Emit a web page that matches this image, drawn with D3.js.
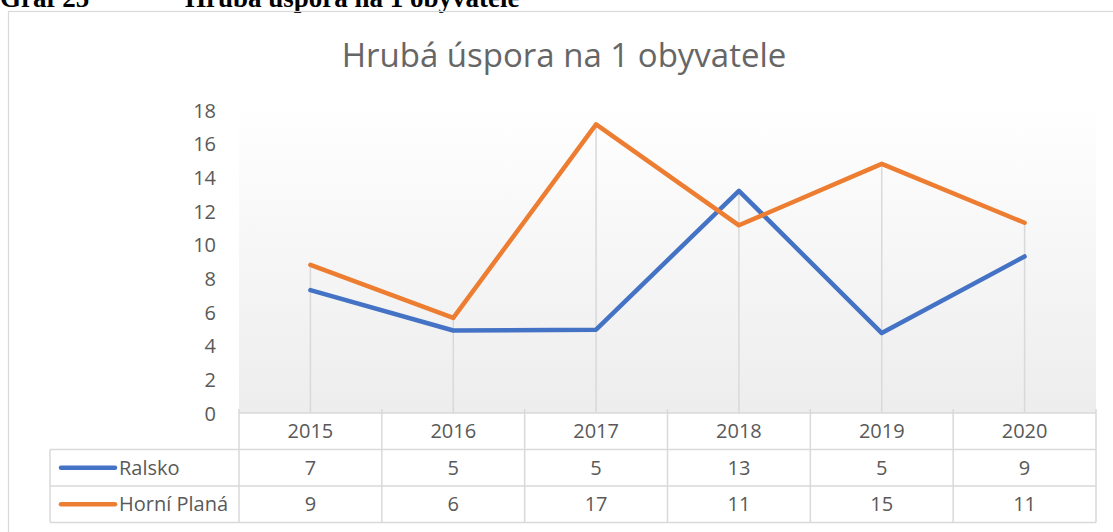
<!DOCTYPE html>
<html>
<head>
<meta charset="utf-8">
<script src="https://cdn.jsdelivr.net/npm/d3@7"></script>
<style>
  body { margin: 0; background: #fff; }
  svg { display: block; }
</style>
</head>
<body>
<svg id="chart" width="1113" height="532"></svg>
<script>
// values as plotted (table shows them rounded)
var years = ['2015', '2016', '2017', '2018', '2019', '2020'];
var ralsko = [7.3, 4.9, 4.95, 13.2, 4.75, 9.3];
var horniPlana = [8.8, 5.65, 17.15, 11.15, 14.8, 11.3];
var seriesNames = ['Ralsko', 'Horní Planá'];
var seriesColors = ['#4472C4', '#ED7D31'];
var yTicks = [0, 2, 4, 6, 8, 10, 12, 14, 16, 18];

var font = '"Open Sans", sans-serif';
var textColor = '#595959';
var gridColor = '#d9d9d9';

var svg = d3.select('#chart');
var margin = {left: 239, right: 1096, top: 103, bottom: 413};
var rowH = 36.5;
var legendLeft = 50;

var x = d3.scaleBand()
    .domain(years)
    .range([margin.left, margin.right]);

var y = d3.scaleLinear()
    .domain([0, 18])
    .range([margin.bottom, 110]);

var series = [
    {name: seriesNames[0], color: seriesColors[0], values: ralsko},
    {name: seriesNames[1], color: seriesColors[1], values: horniPlana}
];

// heading of the document, clipped by the top edge
svg.append('g')
    .attr('font-family', '"Liberation Serif", "Times New Roman", serif')
    .attr('font-weight', 'bold')
    .attr('font-size', 27)
    .attr('fill', '#000')
    .selectAll('text')
    .data([{t: 'Graf 25', x: 0}, {t: 'Hrubá úspora na 1 obyvatele', x: 185}])
  .enter().append('text')
    .attr('x', function (d) { return d.x; })
    .attr('y', 7)
    .text(function (d) { return d.t; });

// chart border
svg.append('rect')
    .attr('x', 8.5)
    .attr('y', 11.5)
    .attr('width', 1120)
    .attr('height', 540)
    .attr('fill', 'none')
    .attr('stroke', gridColor)
    .attr('stroke-width', 1.2);

// plot area gradient
var defs = svg.append('defs');
var grad = defs.append('linearGradient')
    .attr('id', 'plotfill')
    .attr('x1', 0).attr('y1', 0)
    .attr('x2', 0).attr('y2', 1);
grad.append('stop').attr('offset', '0%').attr('stop-color', '#ffffff');
grad.append('stop').attr('offset', '100%').attr('stop-color', '#ededed');

svg.append('rect')
    .attr('x', margin.left)
    .attr('y', margin.top)
    .attr('width', margin.right - margin.left)
    .attr('height', margin.bottom - margin.top)
    .attr('fill', 'url(#plotfill)');

// title
svg.append('text')
    .attr('x', 564)
    .attr('y', 67)
    .attr('text-anchor', 'middle')
    .attr('font-family', font)
    .attr('font-size', 33)
    .attr('fill', '#666')
    .text('Hrubá úspora na 1 obyvatele');

// y axis labels
var yAxis = d3.axisLeft(y)
    .tickValues(yTicks)
    .tickSize(0)
    .tickPadding(0);

svg.append('g')
    .attr('transform', 'translate(216,0)')
    .call(yAxis)
    .call(function (g) { g.select('.domain').remove(); })
    .selectAll('text')
    .attr('font-family', font)
    .attr('font-size', 20)
    .attr('fill', textColor)
    .attr('dy', '0.35em');

// drop lines from the highest point down to the axis
svg.append('g')
    .selectAll('line')
    .data(years)
  .enter().append('line')
    .attr('x1', function (d) { return x(d) + x.bandwidth() / 2; })
    .attr('x2', function (d) { return x(d) + x.bandwidth() / 2; })
    .attr('y1', function (d, i) { return y(d3.max(series, function (s) { return s.values[i]; })); })
    .attr('y2', margin.bottom)
    .attr('stroke', gridColor)
    .attr('stroke-width', 1.5);

// lines
var line = d3.line()
    .x(function (d, i) { return x(years[i]) + x.bandwidth() / 2; })
    .y(function (d) { return y(d); });

svg.append('g')
    .selectAll('path')
    .data(series)
  .enter().append('path')
    .attr('d', function (d) { return line(d.values); })
    .attr('fill', 'none')
    .attr('stroke', function (d) { return d.color; })
    .attr('stroke-width', 4.5)
    .attr('stroke-linejoin', 'round')
    .attr('stroke-linecap', 'round');

// data table
var table = svg.append('g')
    .attr('stroke', gridColor)
    .attr('stroke-width', 1.5);

var tableTop = margin.bottom;
var tableBottom = tableTop + rowH * 3;

// horizontal rules
table.append('line')
    .attr('x1', margin.left).attr('x2', margin.right)
    .attr('y1', tableTop).attr('y2', tableTop);
[1, 2, 3].forEach(function (r) {
    table.append('line')
        .attr('x1', legendLeft).attr('x2', margin.right)
        .attr('y1', tableTop + rowH * r).attr('y2', tableTop + rowH * r);
});

// vertical rules
table.append('line')
    .attr('x1', legendLeft).attr('x2', legendLeft)
    .attr('y1', tableTop + rowH).attr('y2', tableBottom);
years.forEach(function (yr) {
    table.append('line')
        .attr('x1', x(yr)).attr('x2', x(yr))
        .attr('y1', tableTop - 4).attr('y2', tableBottom);
});
table.append('line')
    .attr('x1', margin.right).attr('x2', margin.right)
    .attr('y1', tableTop - 4).attr('y2', tableBottom);

var cellText = svg.append('g')
    .attr('font-family', font)
    .attr('font-size', 20)
    .attr('fill', textColor)
    .attr('text-anchor', 'middle');

cellText.selectAll('.year')
    .data(years)
  .enter().append('text')
    .attr('class', 'year')
    .attr('x', function (d) { return x(d) + x.bandwidth() / 2; })
    .attr('y', tableTop + rowH / 2)
    .attr('dy', '0.35em')
    .text(function (d) { return d; });

series.forEach(function (s, si) {
    var rowY = tableTop + rowH * (si + 1) + rowH / 2;
    cellText.selectAll('.v' + si)
        .data(s.values)
      .enter().append('text')
        .attr('class', 'v' + si)
        .attr('x', function (d, i) { return x(years[i]) + x.bandwidth() / 2; })
        .attr('y', rowY)
        .attr('dy', '0.35em')
        .text(function (d) { return Math.round(d); });

    svg.append('line')
        .attr('x1', 61).attr('x2', 115)
        .attr('y1', rowY).attr('y2', rowY)
        .attr('stroke', s.color)
        .attr('stroke-width', 4.5)
        .attr('stroke-linecap', 'round');

    svg.append('text')
        .attr('x', 119)
        .attr('y', rowY)
        .attr('dy', '0.35em')
        .attr('font-family', font)
        .attr('font-size', 20)
        .attr('fill', textColor)
        .text(s.name);
});
</script>
</body>
</html>
